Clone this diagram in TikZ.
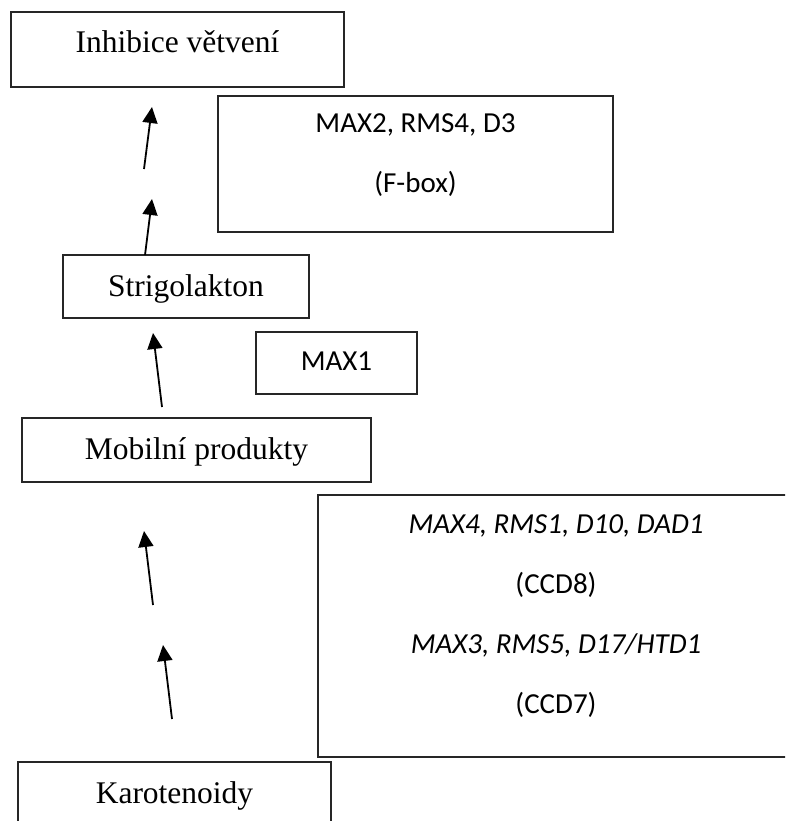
\documentclass[tikz,border=0pt]{standalone}
\usepackage{fontspec}
\setmainfont{Liberation Serif}
\newfontfamily\calibri{Carlito}
\usetikzlibrary{arrows.meta}
\begin{document}
\begin{tikzpicture}[x=1pt,y=-1pt,
  boxshape/.style={draw=black!85, line width=1.4pt},
  serif/.style={anchor=base, inner sep=0pt, font=\fontsize{31.5}{38}\selectfont},
  sans/.style={anchor=base, inner sep=0pt, font=\calibri\fontsize{29}{35}\selectfont},
  sansit/.style={anchor=base, inner sep=0pt, font=\calibri\itshape\fontsize{29}{35}\selectfont},
  flow/.style={line width=1.8pt, -{Triangle[length=16pt,width=15pt]}}]
\useasboundingbox (0,0) rectangle (785,821);
\clip (0,0) rectangle (785,821);
% boxes
\draw[boxshape] (11,12) rectangle (344,87) coordinate (inhBR);
\coordinate (inhTL) at (11,12);
\draw[boxshape] (218,96) rectangle (613,232);
\draw[boxshape] (63,255) rectangle (309,318);
\draw[boxshape] (256,332) rectangle (417,394);
\draw[boxshape] (22,418) rectangle (371,482);
\draw[boxshape] (318,495) rectangle (794,757);
\draw[boxshape] (18,762) rectangle (331,830);
% texts
\node[serif] (tinh) at (177.5,53) {Inhibice větvení};
\node[sans] (tfbox1) at (415.5,133) {MAX2, RMS4, D3};
\node[sans] (tfbox2) at (415.5,193) {(F-box)};
\node[serif] (tstrig) at (186,296) {Strigolakton};
\node[sans] (tmax1) at (336.5,370) {MAX1};
\node[serif] (tmob) at (196.5,459) {Mobilní produkty};
\node[sansit] (tbig1) at (556,533) {MAX4, RMS1, D10, DAD1};
\node[sans] (tbig2) at (556,593) {(CCD8)};
\node[sansit] (tbig3) at (556,653) {MAX3, RMS5, D17/HTD1};
\node[sans] (tbig4) at (556,713) {(CCD7)};
\node[serif] (tkaro) at (174.5,803) {Karotenoidy};
% arrow end points
\coordinate (a1s) at (144,169); \coordinate (a1e) at (152,107);
\coordinate (a2s) at (145,255); \coordinate (a2e) at (152,199);
\coordinate (a3s) at (162,407); \coordinate (a3e) at (153,333);
\coordinate (a4s) at (153,605); \coordinate (a4e) at (144,531);
\coordinate (a5s) at (172,719); \coordinate (a5e) at (163,645);
\draw[flow] (a1s) -- (a1e);
\draw[flow] (a2s) -- (a2e);
\draw[flow] (a3s) -- (a3e);
\draw[flow] (a4s) -- (a4e);
\draw[flow] (a5s) -- (a5e);
\end{tikzpicture}
\end{document}
